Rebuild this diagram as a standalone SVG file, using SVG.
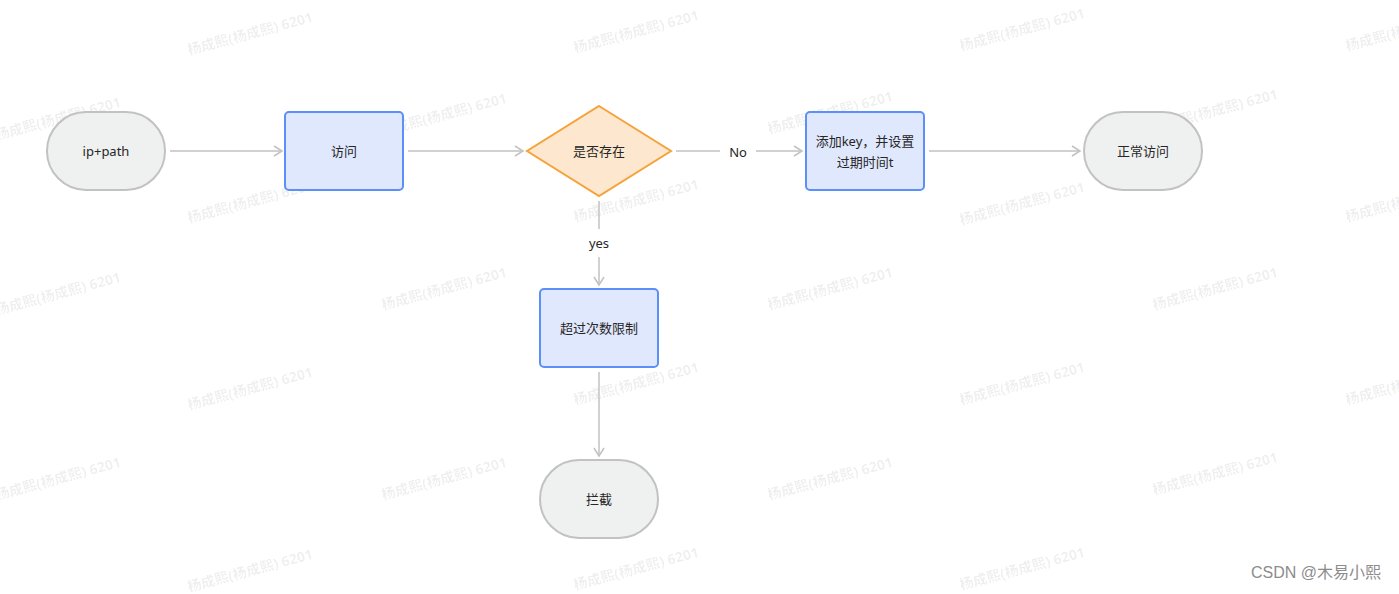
<svg xmlns="http://www.w3.org/2000/svg" width="1399" height="594" viewBox="0 0 1399 594">
<style>
.wm{font-family:"Noto Sans","Noto Sans CJK SC",sans-serif;font-size:14px;font-weight:bold;fill:#000;fill-opacity:0.07}
.term{fill:#eff0f0;stroke:#c2c2c2;stroke-width:2}
.proc{fill:#e0e8fd;stroke:#5b8ff9;stroke-width:2}
.dec{fill:#fde8cf;stroke:#f5a33b;stroke-width:2}
.t{font-family:"Noto Sans","Noto Sans CJK SC",sans-serif;font-size:13px;fill:#262626;text-anchor:middle;dominant-baseline:central}
.edge{stroke:#c2c2c2;stroke-width:1.5;fill:none}
.lbl{font-family:"Noto Sans","Noto Sans CJK SC",sans-serif;font-size:13px;fill:#262626;text-anchor:middle;dominant-baseline:central}
</style>
<defs>
<marker id="arr" markerUnits="userSpaceOnUse" markerWidth="12" markerHeight="14" refX="9" refY="6" orient="auto">
<path d="M1,1 L9,6 L1,11" fill="none" stroke="#c2c2c2" stroke-width="1.5"/>
</marker>
<text id="w" class="wm" text-anchor="middle" dominant-baseline="central">杨成熙(杨成熙) 6201</text>
</defs>
<rect width="1399" height="594" fill="#ffffff"/>
<g id="watermark">
<use href="#w" transform="translate(250,33) rotate(-15)"/>
<use href="#w" transform="translate(636,31) rotate(-15)"/>
<use href="#w" transform="translate(1022,29) rotate(-15)"/>
<use href="#w" transform="translate(1408,29) rotate(-15)"/>
<use href="#w" transform="translate(58,118) rotate(-15)"/>
<use href="#w" transform="translate(444,114) rotate(-15)"/>
<use href="#w" transform="translate(830,112) rotate(-15)"/>
<use href="#w" transform="translate(1215,110) rotate(-15)"/>
<use href="#w" transform="translate(250,201) rotate(-15)"/>
<use href="#w" transform="translate(636,200) rotate(-15)"/>
<use href="#w" transform="translate(1022,203) rotate(-15)"/>
<use href="#w" transform="translate(1408,200) rotate(-15)"/>
<use href="#w" transform="translate(58,293) rotate(-15)"/>
<use href="#w" transform="translate(444,288) rotate(-15)"/>
<use href="#w" transform="translate(830,288) rotate(-15)"/>
<use href="#w" transform="translate(1215,288) rotate(-15)"/>
<use href="#w" transform="translate(250,388) rotate(-15)"/>
<use href="#w" transform="translate(636,383) rotate(-15)"/>
<use href="#w" transform="translate(1022,383) rotate(-15)"/>
<use href="#w" transform="translate(1408,383) rotate(-15)"/>
<use href="#w" transform="translate(58,478) rotate(-15)"/>
<use href="#w" transform="translate(444,478) rotate(-15)"/>
<use href="#w" transform="translate(830,478) rotate(-15)"/>
<use href="#w" transform="translate(1215,473) rotate(-15)"/>
<use href="#w" transform="translate(250,570) rotate(-15)"/>
<use href="#w" transform="translate(636,568) rotate(-15)"/>
<use href="#w" transform="translate(1022,568) rotate(-15)"/>
</g>
<g id="connectors">
<line class="edge" x1="170" y1="151" x2="282" y2="151" marker-end="url(#arr)"/>
<line class="edge" x1="408" y1="151" x2="523" y2="151" marker-end="url(#arr)"/>
<line class="edge" x1="676" y1="151" x2="720" y2="151"/>
<line class="edge" x1="756" y1="151" x2="802" y2="151" marker-end="url(#arr)"/>
<text class="lbl" x="738" y="152">No</text>
<line class="edge" x1="929" y1="151" x2="1080" y2="151" marker-end="url(#arr)"/>
<line class="edge" x1="599" y1="201" x2="599" y2="229"/>
<text class="lbl" x="599" y="243">yes</text>
<line class="edge" x1="599" y1="257" x2="599" y2="285" marker-end="url(#arr)"/>
<line class="edge" x1="599" y1="372" x2="599" y2="456" marker-end="url(#arr)"/>
</g>
<g id="node-ippath">
<rect class="term" x="47" y="112" width="118" height="78" rx="39"/>
<text class="t" x="106" y="151">ip+path</text>
</g>
<g id="node-visit">
<rect class="proc" x="285" y="112" width="118" height="78" rx="4"/>
<text class="t" x="344" y="151">访问</text>
</g>
<g id="node-exists">
<polygon class="dec" points="599,106 671,151 599,196 527,151"/>
<text class="t" x="599" y="151">是否存在</text>
</g>
<g id="node-addkey">
<rect class="proc" x="806" y="112" width="118" height="78" rx="4"/>
<text class="t" x="865" y="141">添加key，并设置</text>
<text class="t" x="865" y="162">过期时间t</text>
</g>
<g id="node-normal">
<rect class="term" x="1084" y="112" width="118" height="78" rx="39"/>
<text class="t" x="1143" y="151">正常访问</text>
</g>
<g id="node-limit">
<rect class="proc" x="540" y="289" width="118" height="78" rx="4"/>
<text class="t" x="599" y="328">超过次数限制</text>
</g>
<g id="node-block">
<rect class="term" x="540" y="460" width="118" height="78" rx="39"/>
<text class="t" x="599" y="499">拦截</text>
</g>
<text x="1316" y="578" font-family="'Liberation Sans','Noto Sans CJK SC',sans-serif" font-size="16" fill="#8c8c8c" text-anchor="middle">CSDN @木易小熙</text>
</svg>
